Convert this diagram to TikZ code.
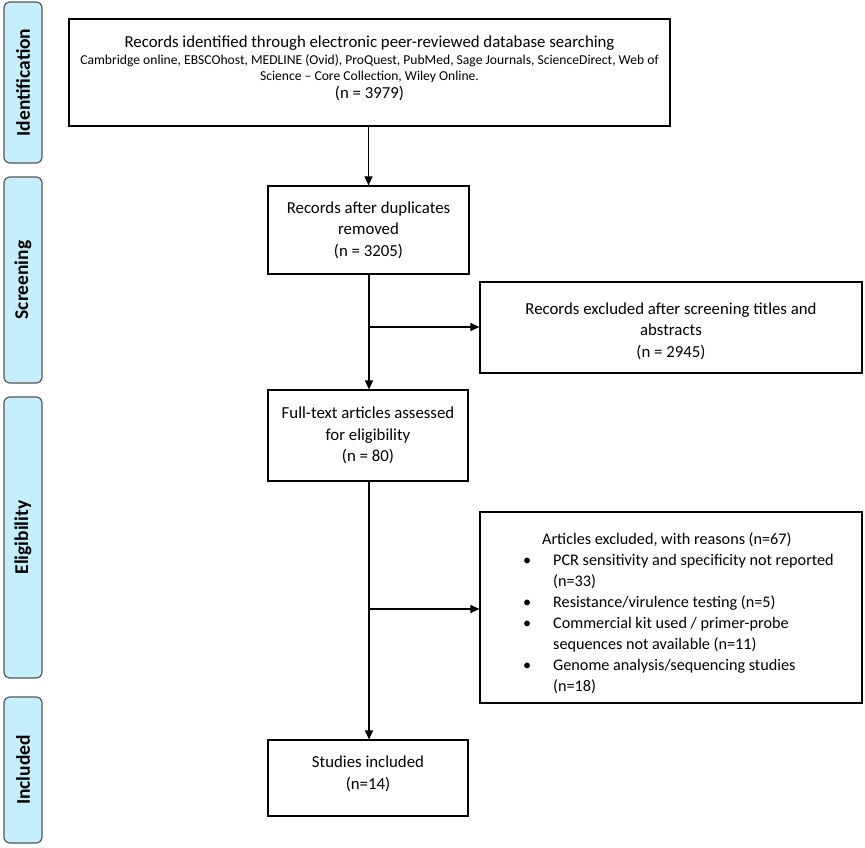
\documentclass[tikz,border=0pt]{standalone}
\usepackage{fontspec}
\setmainfont{Carlito}
\usetikzlibrary{arrows.meta}
\definecolor{sidefill}{HTML}{C6EFFE}
\definecolor{sideline}{HTML}{555555}
\newcommand{\itm}[1]{\hspace*{47pt}\makebox[0pt]{\textbullet}\hspace*{26pt}#1}
\newcommand{\cnt}[1]{\hspace*{73pt}#1}
\begin{document}
\begin{tikzpicture}[x=1pt,y=-1pt,
  box/.style={draw=black, line width=1.2pt, fill=white, inner sep=0pt},
  txt/.style={inner sep=0pt, align=center, font=\fontsize{16.8}{21.5}\selectfont},
  side/.style={draw=sideline, line width=1.2pt, fill=sidefill, rounded corners=6pt,
    rotate=90, inner sep=0pt, minimum height=38pt, font=\fontsize{19.5}{20}\selectfont\bfseries},
  arr/.style={line width=1.2pt, -{Triangle[length=9pt,width=8pt]}},
]
\useasboundingbox (0,0) rectangle (865,847);
% side labels
\node[side, minimum width=161pt] (sid) at (23,82.5) {Identification};
\node[side, minimum width=206pt] (sscr) at (23,280) {Screening};
\node[side, minimum width=281pt] (selg) at (23,537.5) {Eligibility};
\node[side, minimum width=146pt] (sinc) at (23,770) {Included};
% boxes
\node[box, minimum width=601pt, minimum height=107pt] (rec) at (369.5,72.5) {};
\node[txt, font=\fontsize{16.8}{16}\selectfont] (rect) at (369.5,68.5) {Records identified through electronic peer-reviewed database searching\\[1pt]
  {\fontsize{13.6}{14}\selectfont Cambridge online, EBSCOhost, MEDLINE (Ovid), ProQuest, PubMed, Sage Journals, ScienceDirect, Web of}\\
  {\fontsize{13.6}{14}\selectfont Science – Core Collection, Wiley Online.}\\[2pt]
  (n = 3979)};
\node[box, minimum width=201pt, minimum height=88pt] (dup) at (368.5,230) {};
\node[txt] (dupt) at (dup.center) {Records after duplicates\\ removed\\ (n = 3205)};
\node[box, minimum width=382pt, minimum height=91pt] (ex1) at (671,327.5) {};
\node[txt] (ex1t) at (671,331) {Records excluded after screening titles and\\ abstracts\\ (n = 2945)};
\node[box, minimum width=200pt, minimum height=91pt] (full) at (368,435.5) {};
\node[txt] (fullt) at (full.center) {Full-text articles assessed\\ for eligibility\\ (n = 80)};
\node[box, minimum width=382pt, minimum height=191pt] (ex2) at (671,607.5) {};
\node[txt, align=left, anchor=west, font=\fontsize{16.2}{21}\selectfont] (ex2t) at (480,613) {%
  \hspace*{62pt}Articles excluded, with reasons (n=67)\\
  \itm{PCR sensitivity and specificity not reported}\\
  \cnt{(n=33)}\\
  \itm{Resistance/virulence testing (n=5)}\\
  \itm{Commercial kit used / primer-probe}\\
  \cnt{sequences not available (n=11)}\\
  \itm{Genome analysis/sequencing studies}\\
  \cnt{(n=18)}};
\node[box, minimum width=200pt, minimum height=76pt] (inc) at (368,778) {};
\node[txt] (inct) at (368,774) {Studies included\\ (n=14)};
% connectors
\coordinate (b1) at (369,327);
\coordinate (b2) at (369,609);
\draw[arr] (rec.south -| dup.north) -- (dup.north);
\draw[arr] (369,0 |- dup.south) -- (369,0 |- full.north);
\draw[arr] (b1) -- (ex1.west |- b1);
\draw[arr] (369,0 |- full.south) -- (369,0 |- inc.north);
\draw[arr] (b2) -- (ex2.west |- b2);
\end{tikzpicture}
\end{document}
